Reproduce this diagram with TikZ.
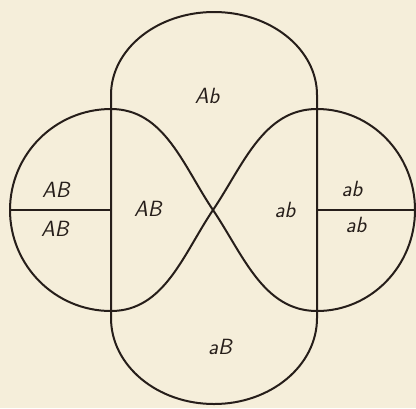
\documentclass[tikz,border=0pt]{standalone}
\usepackage{xcolor}
\definecolor{paper}{RGB}{245,238,218}
\definecolor{ink}{RGB}{38,30,26}
\begin{document}
\begin{tikzpicture}[x=0.75pt,y=-0.75pt,
  line/.style={draw=ink,line width=1.5pt,line join=round},
  lbl/.style={inner sep=0pt,font=\fontsize{16.5}{18}\selectfont\sffamily\slshape,text=ink}]
\fill[paper] (0,0) rectangle (416,408);
\useasboundingbox (0,0) rectangle (416,408);
% key points
\coordinate (LT) at (111,109);
\coordinate (LB) at (111,311);
\coordinate (RT) at (317,109);
\coordinate (RB) at (317,311);
\coordinate (X) at (213,210);
\coordinate (LL) at (10,210);
\coordinate (LM) at (111,210);
\coordinate (RM) at (317,210);
\coordinate (RR) at (414,210);
% stadium (top and bottom)
\draw[line] (111,95) -- (111,318) arc[start angle=180,end angle=0,x radius=103,y radius=86]
  -- (317,95) arc[start angle=360,end angle=180,x radius=103,y radius=83] -- cycle;
% left lobe outer
\draw[line] (LT) arc[start angle=270,end angle=90,radius=101];
% right lobe outer
\draw[line] (RT) arc[start angle=270,end angle=450,x radius=98,y radius=101];
% inner crossing curves
\draw[line] (LT) to[out=0,in=124,looseness=0.95] (X) to[out=-56,in=180,looseness=0.95] (RB);
\draw[line] (LB) to[out=0,in=236,looseness=0.95] (X) to[out=56,in=180,looseness=0.95] (RT);
% horizontal dividers
\draw[line] (LL) -- (LM);
\draw[line] (RM) -- (RR);
% labels
\node[lbl] (ab1) at (207,96) {Ab};
\node[lbl] (AB1) at (56,190) {AB};
\node[lbl] (AB2) at (55,229) {AB};
\node[lbl] (AB3) at (148,209) {AB};
\node[lbl] (ab2) at (285,210) {ab};
\node[lbl] (ab3) at (352,189) {ab};
\node[lbl] (ab4) at (356,225) {ab};
\node[lbl] (aB) at (220,347) {aB};
\end{tikzpicture}
\end{document}
